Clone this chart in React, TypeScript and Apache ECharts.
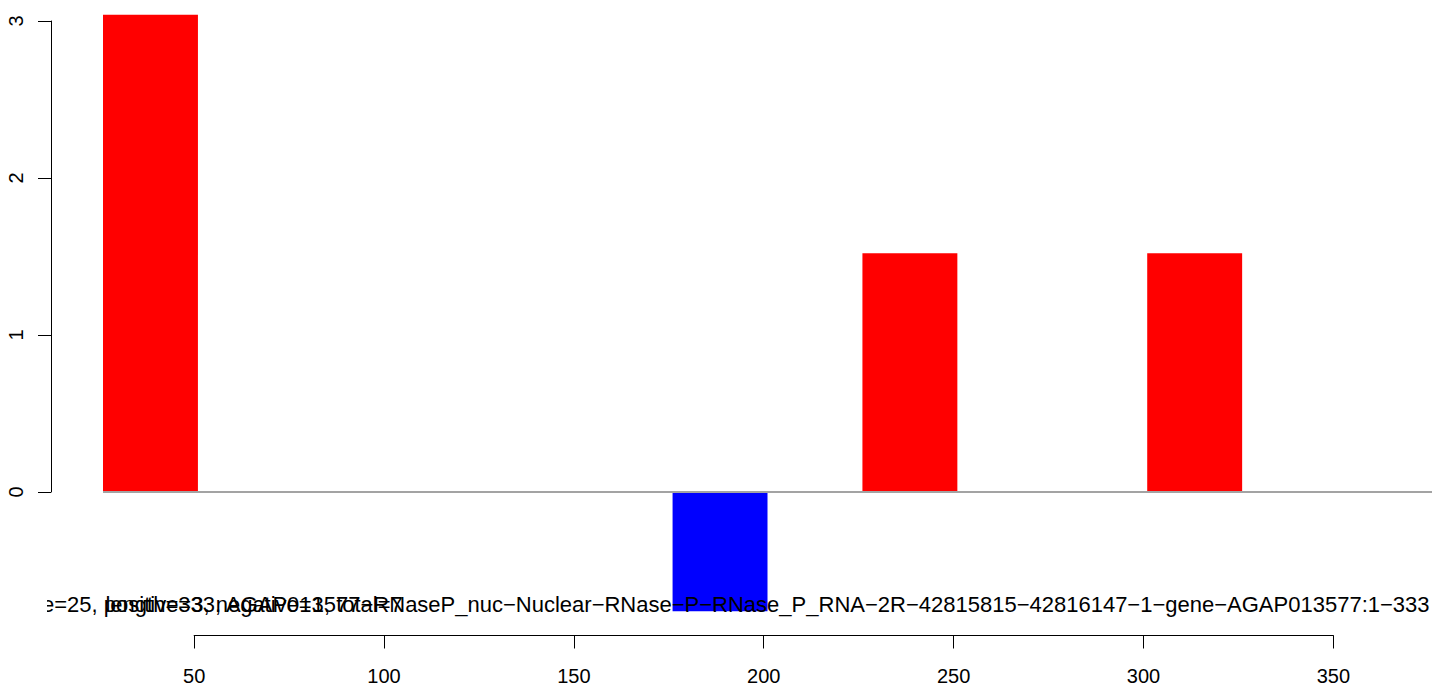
import React, { useEffect, useRef } from "react";
import * as echarts from "echarts";

// Bins (window size 25) along the sequence, and their signed values
const binStarts = [26, 51, 76, 101, 126, 151, 176, 201, 226, 251, 276, 301, 326, 351];
const binEnds = [51, 76, 101, 126, 151, 176, 201, 226, 251, 276, 301, 326, 351, 376];
const binValues = [3.04, 0, 0, 0, 0, 0, -0.76, 0, 1.52, 0, 0, 1.52, 0, 0];

const xTicks = [50, 100, 150, 200, 250, 300, 350];
const yTicks = [0, 1, 2, 3];

const subtitle1 = "e=25, positive=3, negative=1, total=7";
const subtitle2 =
  "length=333, AGAP013577\u2212RNaseP_nuc\u2212Nuclear\u2212RNase\u2212P\u2212RNase_P_RNA\u22122R\u221242815815\u221242816147\u22121\u2212gene\u2212AGAP013577:1\u2212333";

const FONT = '"Liberation Sans", Arial, Helvetica, sans-serif';

export default function App() {
  const ref = useRef<HTMLDivElement>(null);

  useEffect(() => {
    if (!ref.current) return;
    const chart = echarts.init(ref.current, null, { renderer: "svg" });
    const data = binStarts.map((s, i) => [s, binEnds[i], binValues[i]]);

    const option: any = {
      animation: false,
      backgroundColor: "#ffffff",
      grid: [
        { left: 103, width: 1329, top: 5.3, height: 612.3 },
        { left: 194.13, width: 1139.2, top: 600, height: 35.5 },
        { left: 51, width: 10, top: 21, height: 471 },
      ],
      xAxis: [
        { gridIndex: 0, type: "value", min: 26, max: 376, show: false },
        {
          gridIndex: 1,
          type: "value",
          min: xTicks[0],
          max: xTicks[xTicks.length - 1],
          interval: 50,
          position: "bottom",
          axisLine: { show: true, onZero: false, lineStyle: { color: "#000", width: 1 } },
          axisTick: { show: true, inside: false, length: 13, lineStyle: { color: "#000", width: 1 } },
          axisLabel: {
            show: true,
            margin: 30,
            fontSize: 20,
            color: "#000",
            fontFamily: FONT,
            showMinLabel: true,
            showMaxLabel: true,
          },
          splitLine: { show: false },
        },
        { gridIndex: 2, type: "value", show: false },
      ],
      yAxis: [
        { gridIndex: 0, type: "value", min: -0.8, max: 3.1, show: false },
        { gridIndex: 1, type: "value", show: false },
        {
          gridIndex: 2,
          type: "value",
          min: yTicks[0],
          max: yTicks[yTicks.length - 1],
          interval: 1,
          position: "left",
          axisLine: { show: true, onZero: false, lineStyle: { color: "#000", width: 1 } },
          axisTick: { show: true, inside: false, length: 13, lineStyle: { color: "#000", width: 1 } },
          axisLabel: {
            show: true,
            rotate: 90,
            margin: 25,
            fontSize: 20,
            color: "#000",
            fontFamily: FONT,
            showMinLabel: true,
            showMaxLabel: true,
          },
          splitLine: { show: false },
        },
      ],
      series: [
        {
          type: "custom",
          xAxisIndex: 0,
          yAxisIndex: 0,
          clip: false,
          data,
          renderItem: (params: any, api: any) => {
            const s = api.value(0);
            const e = api.value(1);
            const v = api.value(2);
            const p0 = api.coord([s, 0]);
            const p1 = api.coord([e, v]);
            const y = Math.min(p0[1], p1[1]);
            const h = Math.abs(p1[1] - p0[1]);
            return {
              type: "rect",
              shape: { x: p0[0], y, width: p1[0] - p0[0], height: h },
              style: { fill: v >= 0 ? "#ff0000" : "#0000ff" },
            };
          },
          markLine: {
            silent: true,
            symbol: ["none", "none"],
            label: { show: false },
            lineStyle: { color: "#a3a3a3", width: 2, type: "solid" },
            data: [{ yAxis: 0 }],
            z: 5,
          },
        },
      ],
      graphic: [
        {
          type: "text",
          x: 42,
          y: 604.5,
          z: 100,
          style: {
            text: subtitle1,
            fill: "#000",
            font: `22px ${FONT}`,
            align: "left",
            verticalAlign: "middle",
          },
        },
        {
          type: "text",
          x: 767.5,
          y: 604.5,
          z: 100,
          style: {
            text: subtitle2,
            fill: "#000",
            font: `22px ${FONT}`,
            align: "center",
            verticalAlign: "middle",
          },
        },
        {
          type: "rect",
          z: 101,
          shape: { x: 0, y: 590, width: 47, height: 30 },
          style: { fill: "#ffffff" },
        },
      ],
    };

    chart.setOption(option);
    return () => chart.dispose();
  }, []);

  return (
    <div
      ref={ref}
      style={{ position: "fixed", left: 0, top: 0, width: 1444, height: 687, background: "#fff" }}
    />
  );
}
